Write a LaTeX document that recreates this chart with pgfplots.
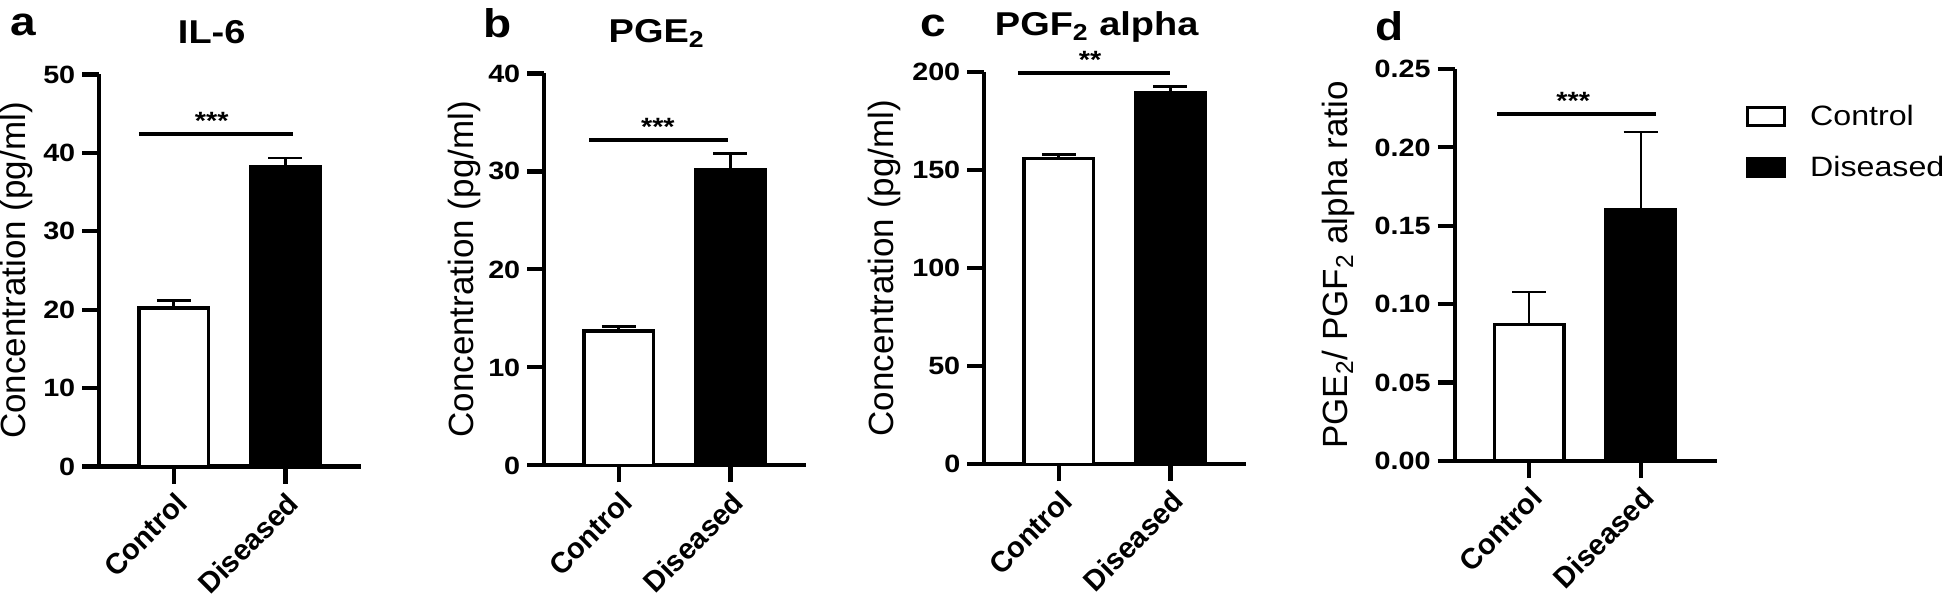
\documentclass[border=0pt]{standalone}
\usepackage{fontspec}
\setmainfont{Liberation Sans}[FakeStretch=1.15]
\newfontfamily\rotfont{Liberation Sans}
\usepackage{pgfplots}
\pgfplotsset{compat=1.18}

\pgfplotsset{
  panel/.style={
    scale only axis, width=131pt, height=196pt, anchor=south west,
    axis x line*=bottom, axis y line*=left,
    axis line style={line width=2.1pt, -},
    xmin=-0.668, xmax=1.68, ymin=0, clip=false,
    xtick={0,1}, xticklabels={Control,Diseased},
    tick align=outside, major tick length=8.5pt,
    tick style={black, line width=2.1pt},
    /pgf/number format/assume math mode=true,
    yticklabel style={font=\bfseries\fontsize{12.5}{14}\selectfont},
    xticklabel style={font=\rotfont\bfseries\fontsize{14.5}{16}\selectfont, rotate=45, anchor=east, yshift=-8pt, xshift=1pt},
    ylabel style={font=\rotfont\fontsize{17.5}{19}\selectfont, at={(axis description cs:#1,0.5)}, anchor=center},
    ybar, bar width=0.625, bar shift=0pt,
  },
  ctrl/.style={fill=white, draw=black, line width=1.65pt,
    error bars/.cd, y dir=plus, y explicit, error mark=-,
    error bar style={line width=#1},
    error mark options={rotate=90, line width=#1, mark size=8.5pt, black}},
  ctrl/.default=1.4pt,
  dis/.style={fill=black, draw=black, line width=1.65pt,
    error bars/.cd, y dir=plus, y explicit, error mark=-,
    error bar style={line width=#1},
    error mark options={rotate=90, line width=#1, mark size=8.5pt, black}},
  dis/.default=1.4pt,
  sig/.style={sharp plot, line width=2pt, black, mark=none, forget plot},
}
\tikzset{
  stars/.style={anchor=south, inner sep=0pt, yshift=2pt, font=\bfseries\fontsize{12.5}{14}\selectfont},
  ttl/.style={anchor=base, inner sep=0pt, font=\bfseries\fontsize{16.5}{18}\selectfont},
  letter/.style={anchor=base west, inner sep=0pt, font=\bfseries\fontsize{20}{22}\selectfont},
}

\begin{document}
\begin{tikzpicture}

% a: IL-6
\begin{axis}[panel={-0.316}, at={(49.65pt,-233.25pt)},
  ymax=50, ytick={0,10,20,30,40,50}, ylabel={Concentration (pg/ml)}]
\addplot[ctrl] coordinates {(0,20.2) +- (0,1.0)};
\addplot[dis] coordinates {(1,38.2) +- (0,1.15)};
\addplot[sig] coordinates {(-0.313,42.47) (1.065,42.47)};
\node[stars] at (axis cs:0.34,42.47) {***};
\node[ttl] at (axis description cs:0.429,1.079) {IL-6};
\end{axis}

% b: PGE2
\begin{axis}[panel={-0.303}, at={(272.15pt,-232.7pt)},
  ymax=40, ytick={0,10,20,30,40}, ylabel={Concentration (pg/ml)}]
\addplot[ctrl] coordinates {(0,13.7) +- (0,0.5)};
\addplot[dis] coordinates {(1,30.2) +- (0,1.6)};
\addplot[sig] coordinates {(-0.266,33.25) (0.979,33.25)};
\node[stars] at (axis cs:0.35,33.25) {***};
\node[ttl] at (axis description cs:0.429,1.079) {PGE\textsubscript{2}};
\end{axis}

% c: PGF2 alpha
\begin{axis}[panel={-0.383}, at={(492.15pt,-232.1pt)},
  ymax=200, ytick={0,50,100,150,200}, ylabel={Concentration (pg/ml)}]
\addplot[ctrl] coordinates {(0,155.9) +- (0,2.3)};
\addplot[dis] coordinates {(1,189.6) +- (0,2.9)};
\addplot[sig] coordinates {(-0.367,199.8) (1.0,199.8)};
\node[stars] at (axis cs:0.28,199.8) {**};
\node[ttl] at (axis description cs:0.429,1.093) {PGF\textsubscript{2} alpha};
\end{axis}

% d: ratio
\begin{axis}[panel={-0.442}, at={(727.3pt,-230.5pt)},
  ymax=0.25, ytick={0,0.05,0.1,0.15,0.2,0.25},
  yticklabel style={/pgf/number format/.cd, fixed, fixed zerofill, precision=2},
  ylabel={PGE\textsubscript{2}/ PGF\textsubscript{2} alpha ratio},
  legend cell align=left,
  legend style={draw=none, fill=none, at={(axis description cs:1.087,0.93)}, anchor=north west,
    row sep=10pt, font=\fontsize{14}{16}\selectfont,
    /tikz/every odd column/.append style={column sep=10pt}},
  legend image code/.code={\draw[#1, line width=1.65pt] (0pt,-4.5pt) rectangle (18.5pt,4.5pt);}]
\addplot[ctrl=1pt] coordinates {(0,0.087) +- (0,0.0205)};
\addlegendentry{Control}
\addplot[dis=1pt] coordinates {(1,0.160) +- (0,0.050)};
\addlegendentry{Diseased}
\addplot[sig] coordinates {(-0.287,0.2212) (1.138,0.2212)};
\node[stars] at (axis cs:0.395,0.2212) {***};
\end{axis}

\node[letter] at (5pt,-18pt) {a};
\node[letter] at (241.5pt,-19pt) {b};
\node[letter] at (460pt,-18.25pt) {c};
\node[letter] at (687.3pt,-20.2pt) {d};

\pgfresetboundingbox
\path[use as bounding box] (0,0) rectangle (972pt,-301.5pt);
\end{tikzpicture}
\end{document}
